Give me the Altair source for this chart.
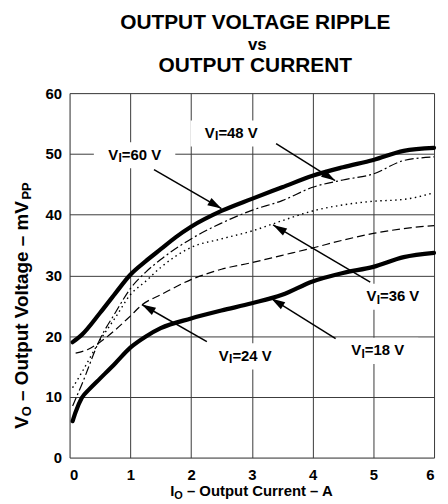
import math
import altair as alt
import pandas as pd

# ---------------- data ----------------
I_60 = [0.05, 0.2, 0.5, 0.75, 1.0, 1.25, 1.5, 1.75, 2.0, 2.5, 3.0, 3.5, 4.0, 4.5, 5.0, 5.5, 6.0]
V_60 = [19.0, 20.2, 23.8, 27.0, 30.1, 32.3, 34.3, 36.3, 38.0, 40.6, 42.6, 44.5, 46.4, 47.8, 49.0, 50.5, 51.0]

I_48 = [0.05, 0.2, 0.5, 0.75, 1.0, 1.25, 1.5, 2.0, 2.5, 3.0, 3.5, 4.0, 4.5, 5.0, 5.5, 6.0]
V_48 = [8.5, 12.0, 19.5, 23.8, 27.8, 30.5, 32.6, 36.0, 38.6, 40.7, 42.3, 44.5, 45.7, 46.7, 48.9, 49.5]

I_36 = [0.05, 0.2, 0.5, 0.75, 1.0, 1.25, 1.5, 2.0, 2.5, 3.0, 3.5, 4.0, 4.5, 5.0, 5.5, 6.0]
V_36 = [11.5, 14.0, 19.3, 23.0, 26.8, 29.0, 31.3, 34.6, 36.0, 37.3, 39.0, 40.6, 41.6, 42.2, 42.5, 43.6]

I_24 = [0.1, 0.3, 0.5, 0.75, 1.0, 1.2, 1.5, 2.0, 2.5, 3.0, 3.5, 4.0, 4.5, 5.0, 5.5, 6.0]
V_24 = [17.2, 17.8, 19.0, 21.0, 23.3, 25.2, 26.8, 29.3, 31.0, 32.1, 33.3, 34.5, 35.8, 36.9, 37.7, 38.2]

I_18 = [0.05, 0.1, 0.2, 0.33, 0.5, 0.75, 1.0, 1.25, 1.5, 2.0, 2.5, 3.0, 3.5, 4.0, 4.5, 5.0, 5.5, 6.0]
V_18 = [6.0, 7.5, 9.8, 11.3, 13.0, 15.5, 18.1, 19.9, 21.3, 22.9, 24.2, 25.4, 26.8, 29.0, 30.4, 31.4, 33.0, 33.7]

X_TICKS = [0, 1, 2, 3, 4, 5, 6]
Y_TICKS = [0, 10, 20, 30, 40, 50, 60]

# annotation labels: name, label centre, arrow start, arrow tip (data units)
ANN_NAME = ["60", "48", "36", "24", "18"]
ANN_LX = [1.07, 2.66, 5.32, 2.89, 5.07]
ANN_LY = [49.9, 53.5, 26.6, 16.8, 17.7]
ANN_X0 = [1.39, 3.40, 4.95, 2.26, 4.38]
ANN_Y0 = [47.4, 51.7, 28.9, 19.1, 19.6]
ANN_X1 = [2.50, 4.37, 3.35, 1.19, 3.32]
ANN_Y1 = [41.0, 45.6, 38.3, 25.2, 26.2]

TITLE_LINES = ["OUTPUT VOLTAGE RIPPLE", "vs", "OUTPUT CURRENT"]

# ---------------- layout ----------------
W, H = 367, 367
FONT = "Liberation Sans"

ADV = {' ': 278, '=': 584, 'V': 667, 'I': 278, 'O': 778, 'A': 722, 'C': 722, 'P': 667,
       'u': 611, 't': 333, 'p': 611, 'r': 389, 'e': 556, 'n': 611, 'o': 611, 'l': 278,
       'a': 556, 'g': 611, 'm': 889, '–': 556, 'G': 778, 'E': 667}


def tw(s, size):
    return sum(ADV.get(c, 556) for c in s) * size / 1000.0


rows = []
for name, xs, ys in [("60", I_60, V_60), ("48", I_48, V_48), ("36", I_36, V_36),
                     ("24", I_24, V_24), ("18", I_18, V_18)]:
    for x, y in zip(xs, ys):
        rows.append({"s": name, "i": x, "v": y})
curves = pd.DataFrame(rows)

sx, sy = W / 6.0, H / 60.0
angles = []
for x0, y0, x1, y1 in zip(ANN_X0, ANN_Y0, ANN_X1, ANN_Y1):
    dxp = (x1 - x0) * sx
    dyp = -(y1 - y0) * sy
    angles.append(math.degrees(math.atan2(dxp, -dyp)) % 360)

ann = pd.DataFrame({"name": ANN_NAME, "lx": ANN_LX, "ly": ANN_LY, "x0": ANN_X0, "y0": ANN_Y0,
                    "x1": ANN_X1, "y1": ANN_Y1, "ang": angles,
                    "rest": ["=%s V" % n for n in ANN_NAME]})

xscale = alt.Scale(domain=[0, 6], nice=False)
yscale = alt.Scale(domain=[0, 60], nice=False)
xaxis = alt.Axis(values=X_TICKS, title=None, grid=True, gridColor="#3a3a3a", gridWidth=1,
                 tickSize=0, domain=False, labelFont=FONT, labelFontSize=15,
                 labelFontWeight="bold", labelColor="black", labelPadding=10)
yaxis = alt.Axis(values=Y_TICKS, title=None, grid=True, gridColor="#3a3a3a", gridWidth=1,
                 tickSize=0, domain=False, labelFont=FONT, labelFontSize=15,
                 labelFontWeight="bold", labelColor="black", labelPadding=8)

X = lambda f: alt.X(f, type="quantitative", scale=xscale, axis=xaxis)
Y = lambda f: alt.Y(f, type="quantitative", scale=yscale, axis=yaxis)

layers = []

# white boxes behind labels
BOX = "M-1,-0.30L1,-0.30L1,0.34L-1,0.34Z"
layers.append(alt.Chart(ann).mark_point(shape=BOX, filled=True, color="white", opacity=1,
                                        size=82 * 82, strokeWidth=0)
              .encode(x=X("lx"), y=Y("ly")))


def curve(name, width, dash=None):
    kw = dict(color="black", strokeWidth=width, interpolate="monotone",
              strokeCap="round", strokeJoin="round")
    if dash:
        kw["strokeDash"] = dash
        kw["strokeCap"] = "butt"
    return (alt.Chart(curves).transform_filter(alt.datum.s == name)
            .mark_line(**kw).encode(x=X("i"), y=Y("v")))


layers.append(curve("48", 1.2, [9, 3, 2, 3]))
layers.append(curve("36", 1.4, [1.5, 3.5]))
layers.append(curve("24", 1.2, [8, 4]))
layers.append(curve("60", 4.2))
layers.append(curve("18", 4.2))

# arrows
layers.append(alt.Chart(ann).mark_rule(color="black", strokeWidth=1.5)
              .encode(x=X("x0"), y=Y("y0"), x2="x1", y2="y1"))
HEAD = "M0,0L0.6,2L-0.6,2Z"
layers.append(alt.Chart(ann).mark_point(shape=HEAD, filled=True, color="black", opacity=1,
                                        size=14 * 14, strokeWidth=0)
              .encode(x=X("x1"), y=Y("y1"), angle=alt.Angle("ang:Q", scale=None)))

# label text: V + subscript I + "=NN V"
LS, SS = 15, 12
w_total = tw("V", LS) + tw("I", SS) + tw("=60 V", LS)
start = -w_total / 2.0
base_dy = 0.358 * LS
txt = dict(font=FONT, fontWeight="bold", color="black", align="left", baseline="alphabetic")
layers.append(alt.Chart(ann).mark_text(fontSize=LS, dx=start, dy=base_dy, **txt)
              .encode(x=X("lx"), y=Y("ly"), text=alt.value("V")))
layers.append(alt.Chart(ann).mark_text(fontSize=SS, dx=start + tw("V", LS) + 0.3, dy=base_dy + 2.5, **txt)
              .encode(x=X("lx"), y=Y("ly"), text=alt.value("I")))
layers.append(alt.Chart(ann).mark_text(fontSize=LS, dx=start + tw("V", LS) + tw("I", SS) + 0.3, dy=base_dy, **txt)
              .encode(x=X("lx"), y=Y("ly"), text="rest:N"))

one = pd.DataFrame({"k": [0]})


def ptext(s, x, y, size, align="center", angle=None):
    kw = dict(font=FONT, fontWeight="bold", color="black", align=align,
              baseline="alphabetic", fontSize=size)
    if angle is not None:
        kw["angle"] = angle
    return alt.Chart(one).mark_text(**kw).encode(x=alt.value(x), y=alt.value(y), text=alt.value(s))


# title
layers.append(ptext(TITLE_LINES[0], 187, -65, 21))
layers.append(ptext(TITLE_LINES[1], 189, -43, 17))
layers.append(ptext(TITLE_LINES[2], 187, -21, 21))

# x title: I_O – Output Current – A   (parts: text, size, baseline shift, gap before)
XT, XS = 15, 11
xparts = [("I", XT, 0, 0), ("O", XS, 3, 0), ("– Output Current – A", XT, 0, tw(" ", XT))]
xw = sum(tw(s, f) + g for s, f, _, g in xparts)
cx = 183.5 - xw / 2.0
for s, f, d, g in xparts:
    cx += g
    layers.append(ptext(s, cx, 406 + d, f, align="left"))
    cx += tw(s, f)

# y title: V_O – Output Voltage – mV_PP (rotated)
YT, YS = 19, 13
yparts = [("V", YT, 0, 0), ("O", YS, 3, 0), ("– Output Voltage – mV", YT, 0, tw(" ", YT)), ("PP", YS, 3, 0)]
cy = 338
for s, f, d, g in yparts:
    cy -= g
    layers.append(ptext(s, -42 + d, cy, f, align="left", angle=270))
    cy -= tw(s, f)

chart = (alt.layer(*layers)
         .properties(width=W, height=H, autosize=alt.AutoSizeParams(type="none"),
                     padding={"left": 62, "top": 84, "right": 6, "bottom": 44})
         .configure_view(stroke="black", strokeWidth=1.5)
         .configure(background="white"))

chart.save("out.html", embed_options={"renderer": "svg", "actions": False})
